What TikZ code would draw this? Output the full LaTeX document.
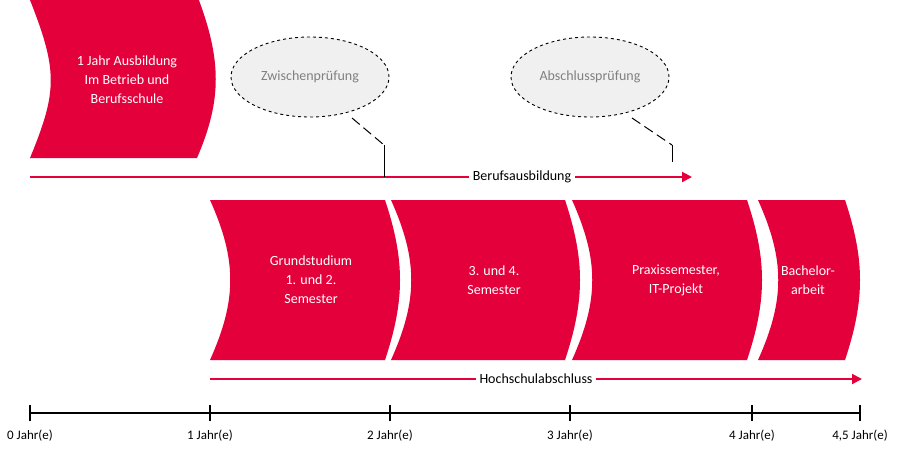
\documentclass[tikz,border=0pt]{standalone}
\usepackage{fontspec}
\setmainfont{Carlito}
\usetikzlibrary{arrows.meta,shapes.geometric}
\definecolor{hred}{HTML}{E4003A}
\begin{document}
\begin{tikzpicture}[x=1pt,y=-1pt,
  seg/.style={fill=hred,draw=none},
  segtxt/.style={text=white,align=center,font=\fontsize{14}{19}\selectfont},
  bubble/.style={ellipse,draw=black,dashed,fill=gray!12,line width=0.9pt,minimum width=158,minimum height=80,text=gray,font=\fontsize{14}{17}\selectfont},
  lbl/.style={fill=white,inner sep=4pt,font=\fontsize{14}{17}\selectfont},
  redarrow/.style={draw=hred,line width=2pt,-{Triangle[length=10pt,width=10pt]}},
  ticklbl/.style={font=\fontsize{13}{16}\selectfont}]
\useasboundingbox (0,0) rectangle (901,450);
% top segment
\fill[hred] (28,-5) .. controls (58,70) and (58,90) .. (30,158) -- (197,158) .. controls (222,100) and (222,60) .. (197,-5) -- cycle;
\node[segtxt] (t0) at (127,80) {1 Jahr Ausbildung\\Im Betrieb und\\Berufsschule};
% bottom segments
\foreach \a/\b [count=\i] in {210/385, 391/565, 572/747, 758/845}{
  \fill[hred] (\a,200) .. controls (\a+27,260) and (\a+27,300) .. (\a,360) -- (\b,360) .. controls (\b+20,300) and (\b+20,260) .. (\b,200) -- cycle;
}
\node[segtxt] (s1) at (311,280) {Grundstudium\\1. und 2.\\Semester};
\node[segtxt] (s2) at (494,280) {3. und 4.\\Semester};
\node[segtxt] (s3) at (676,280) {Praxissemester,\\IT-Projekt};
\node[segtxt] (s4) at (808,280) {Bachelor-\\arbeit};
% arrows
\coordinate (b0) at (30,177); \coordinate (b1) at (692,177);
\coordinate (h0) at (210,379); \coordinate (h1) at (862,379);
\draw[redarrow] (b0) -- (b1);
\draw[redarrow] (h0) -- (h1);
\node[lbl] (bl) at (522,177) {Berufsausbildung};
\node[lbl] (hl) at (536,379) {Hochschulabschluss};
% bubbles
\node[bubble] (z) at (310,77) {Zwischenprüfung};
\node[bubble] (a) at (590,77) {Abschlussprüfung};
\coordinate (zk) at (384,145); \coordinate (zb) at (384,177);
\coordinate (ak) at (672,145); \coordinate (ab) at (672,162);
\draw[line width=1pt,dash pattern=on 10pt off 5pt] (352,118) -- (zk);
\draw[line width=1pt] (zk) -- (zb);
\draw[line width=1pt,dash pattern=on 10pt off 5pt] (632,118) -- (ak);
\draw[line width=1pt] (ak) -- (ab);
% axis
\coordinate (x0) at (30,413); \coordinate (x1) at (860,413);
\draw[line width=1.6pt] (x0) -- (x1);
\foreach \x/\t in {30/0 Jahr(e), 210/1 Jahr(e), 390/2 Jahr(e), 570/3 Jahr(e), 752/4 Jahr(e), 860/{4,5 Jahr(e)}}{
  \draw[line width=1.6pt] (\x,405) -- (\x,421);
  \node[ticklbl] at (\x,436) {\t};
}
\end{tikzpicture}
\end{document}
